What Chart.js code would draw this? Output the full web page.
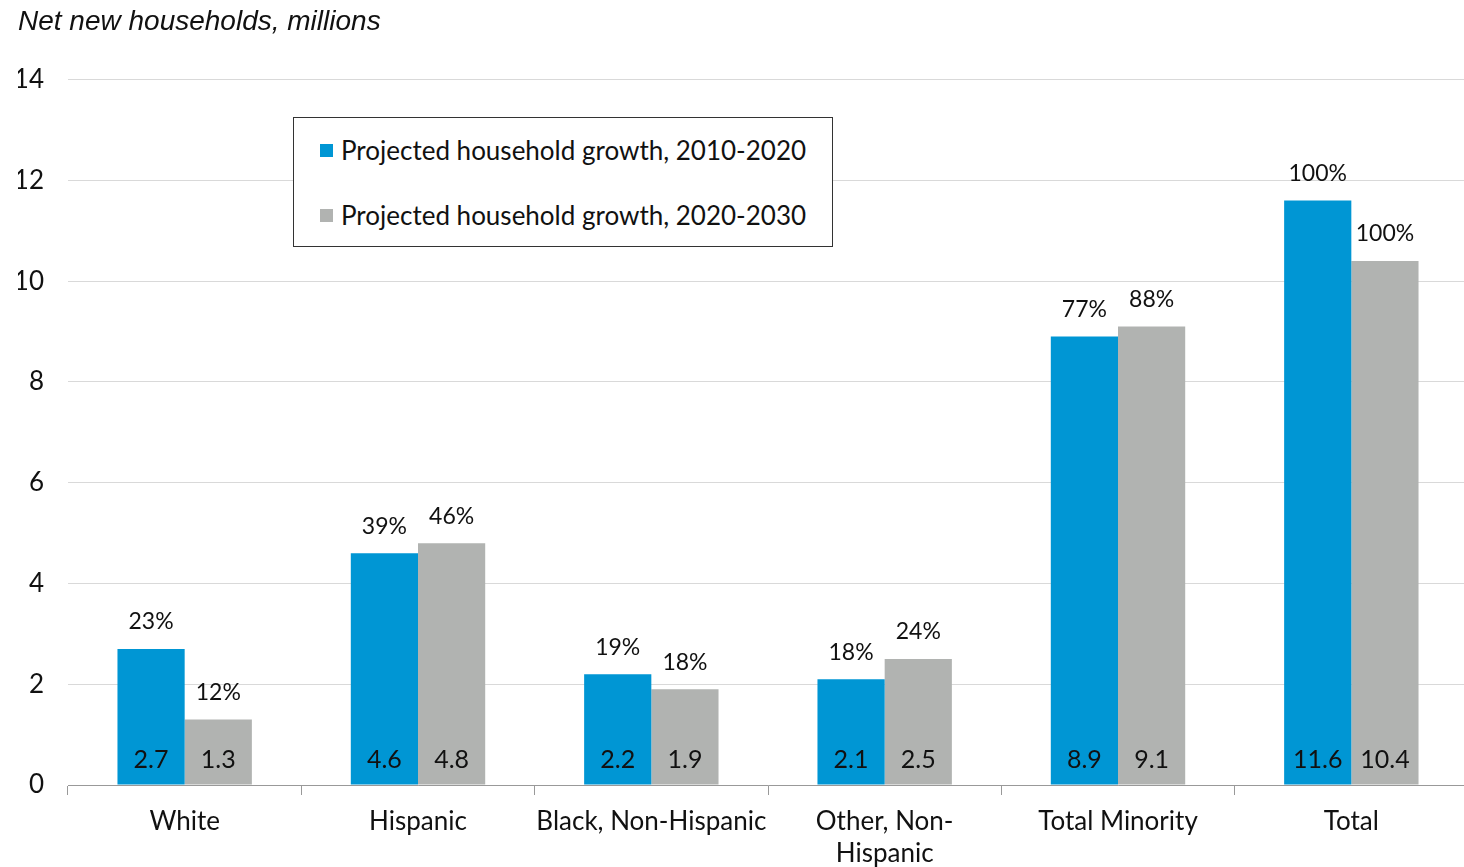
<!DOCTYPE html>
<html>
<head>
<meta charset="utf-8">
<script src="https://cdn.jsdelivr.net/npm/chart.js@4"></script>
<style>
  html, body { margin: 0; padding: 0; background: #fff; overflow: hidden; }
  #wrap { position: relative; width: 1464px; height: 867px; overflow: hidden; }
  #legendBox {
    position: absolute; left: 293px; top: 117px; width: 538px; height: 128px;
    border: 1px solid #333; background: #fff;
    font-family: Lato, sans-serif; font-size: 26px; color: #111;
  }
  .item { position: absolute; left: 26px; display: flex; align-items: center; white-space: nowrap; }
  .sw { width: 13px; height: 13px; margin-right: 8px; }
</style>
</head>
<body>
<div id="wrap">
  <canvas id="chart" width="1468" height="867"></canvas>
  <div id="legendBox"></div>
</div>
<script>
const CATEGORIES = ["White", "Hispanic", "Black, Non-Hispanic", ["Other, Non-", "Hispanic"], "Total Minority", "Total"];
const SERIES_NAMES = ["Projected household growth, 2010-2020", "Projected household growth, 2020-2030"];
const GROWTH_2010_2020 = [2.7, 4.6, 2.2, 2.1, 8.9, 11.6];
const GROWTH_2020_2030 = [1.3, 4.8, 1.9, 2.5, 9.1, 10.4];
const SHARE_2010_2020 = ["23%", "39%", "19%", "18%", "77%", "100%"];
const SHARE_2020_2030 = ["12%", "46%", "18%", "24%", "88%", "100%"];
const Y_TICKS = [0, 2, 4, 6, 8, 10, 12, 14];

const BLUE = "#0096d4";
const GREY = "#b1b3b1";
const FONT = "Lato, sans-serif";

// legend (html box, like the source)
const legendBox = document.getElementById("legendBox");
[[BLUE, SERIES_NAMES[0], 32], [GREY, SERIES_NAMES[1], 97]].forEach(([c, t, top]) => {
  const d = document.createElement("div");
  d.className = "item";
  d.style.top = (top - 16) + "px";
  d.innerHTML = `<span class="sw" style="background:${c}"></span><span>${t}</span>`;
  legendBox.appendChild(d);
});

// values inside bars, shares above
const barLabels = {
  id: "barLabels",
  afterDatasetsDraw(chart) {
    const { ctx, scales } = chart;
    const shares = [SHARE_2010_2020, SHARE_2020_2030];
    ctx.save();
    ctx.textAlign = "center";
    ctx.textBaseline = "middle";
    ctx.fillStyle = "#111";
    chart.data.datasets.forEach((ds, di) => {
      chart.getDatasetMeta(di).data.forEach((bar, i) => {
        ctx.font = `25px ${FONT}`;
        ctx.fillText(ds.data[i].toFixed(1), bar.x, scales.y.getPixelForValue(0) - 25);
        ctx.font = `23px ${FONT}`;
        ctx.fillText(shares[di][i], bar.x, bar.y - 27);
      });
    });
    ctx.restore();
  }
};

new Chart(document.getElementById("chart"), {
  type: "bar",
  data: {
    labels: CATEGORIES,
    datasets: [
      { label: SERIES_NAMES[0], data: GROWTH_2010_2020, backgroundColor: BLUE },
      { label: SERIES_NAMES[1], data: GROWTH_2020_2030, backgroundColor: GREY }
    ]
  },
  options: {
    responsive: false,
    animation: false,
    layout: { padding: { left: 18, right: 0, top: 0, bottom: 0 } },
    datasets: { bar: { categoryPercentage: 0.576, barPercentage: 1.0 } },
    plugins: {
      legend: { display: false },
      tooltip: { enabled: false },
      title: {
        display: true,
        text: "Net new households, millions",
        align: "start",
        color: "#111",
        font: { family: "'Liberation Sans', Arial, sans-serif", size: 28, style: "italic", weight: "normal", lineHeight: 1.2 },
        padding: { top: 5, bottom: 41 }
      }
    },
    scales: {
      x: {
        afterFit(axis) { axis.height = 82; },
        grid: { display: true, drawOnChartArea: false, drawTicks: true, tickLength: 10, color: "#999", offset: true },
        border: { display: true, color: "#999", width: 1 },
        ticks: { color: "#111", font: { family: FONT, size: 26, lineHeight: 1.25 }, padding: 10, maxRotation: 0, autoSkip: false }
      },
      y: {
        min: 0, max: 14,
        afterBuildTicks(axis) { axis.ticks = Y_TICKS.map(v => ({ value: v })); },
        afterFit(axis) { axis.width = 50; },
        grid: { color: "#d9d9d9", drawTicks: false },
        border: { display: false },
        ticks: { color: "#111", font: { family: FONT, size: 26 }, padding: 24 }
      }
    }
  },
  plugins: [barLabels]
});
</script>
</body>
</html>
